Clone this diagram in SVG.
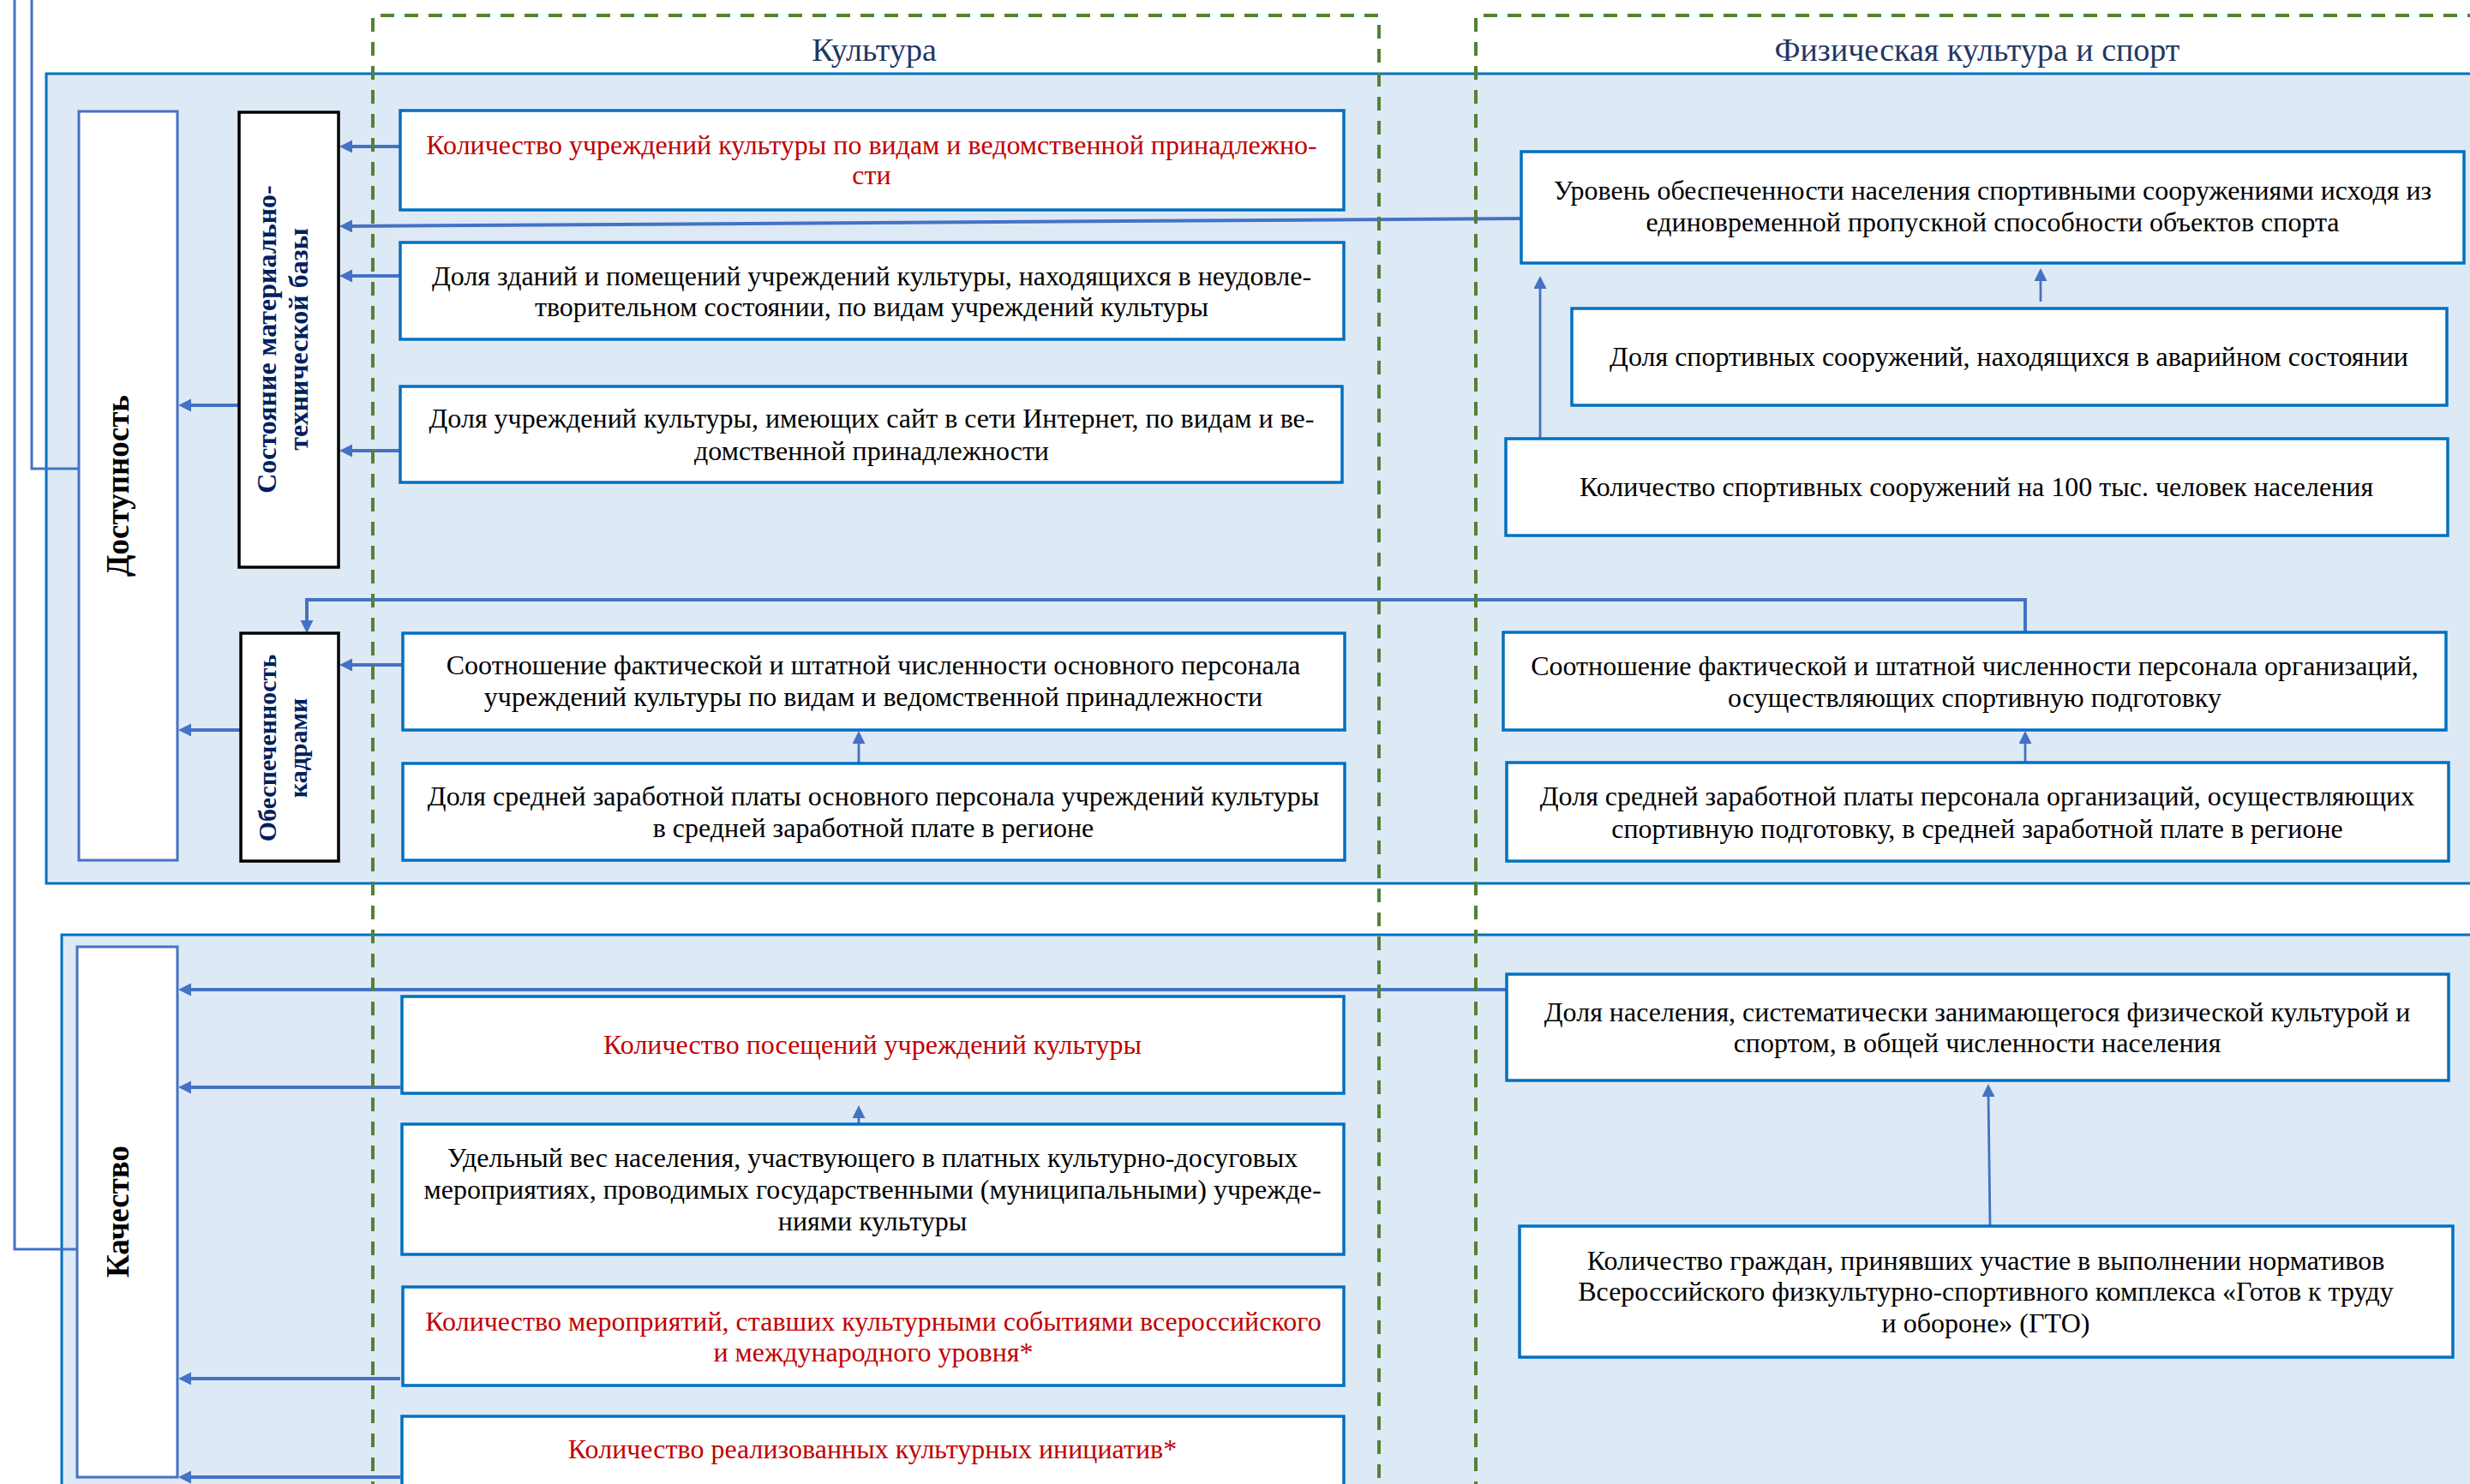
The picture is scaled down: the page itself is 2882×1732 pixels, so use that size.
<svg xmlns="http://www.w3.org/2000/svg" width="2882" height="1732" viewBox="0 0 2882 1732">
<defs>
<style>
.panel{fill:#DEE9F6;stroke:#0070C0;stroke-width:3}
.dash{fill:none;stroke:#548235;stroke-width:4;stroke-dasharray:16 12}
.box{fill:#FFFFFF;stroke:#0070C0;stroke-width:3.5}
.cat{fill:#FFFFFF;stroke:#4472C4;stroke-width:3}
.sub{fill:#FFFFFF;stroke:#000000;stroke-width:3.5}
.t{font-family:"Liberation Serif","Times New Roman",serif;font-size:32px;fill:#000;text-anchor:middle}
.r{fill:#C00000}
.title{font-family:"Liberation Serif","Times New Roman",serif;font-size:38px;fill:#1F3864;text-anchor:middle}
.vb{font-family:"Liberation Serif","Times New Roman",serif;font-size:37px;font-weight:bold;fill:#000;text-anchor:middle}
.vn{font-family:"Liberation Serif","Times New Roman",serif;font-size:32px;font-weight:bold;fill:#002060;text-anchor:middle}
.vn2{font-size:30px}
.c{fill:none;stroke:#4472C4;stroke-width:4}
.ct{fill:none;stroke:#4472C4;stroke-width:2.8}
.cl{fill:none;stroke:#4472C4;stroke-width:3}
</style>
<marker id="ah" markerUnits="userSpaceOnUse" markerWidth="16" markerHeight="16" refX="3" refY="7.5" orient="auto" viewBox="0 0 16 16">
<path d="M0,0 L15,7.5 L0,15 z" fill="#4472C4"/>
</marker>
</defs>

<g id="panels">
<rect class="panel" x="54" y="86" width="2860" height="945"/>
<rect class="panel" x="72" y="1091" width="2860" height="700"/>
</g>

<g id="connectors">
<path class="cl" d="M17,0 V1458 H92"/>
<path class="cl" d="M37,0 V547 H92"/>
<path class="c" d="M279,473 H220" marker-end="url(#ah)"/>
<path class="c" d="M281,852 H220" marker-end="url(#ah)"/>
<path class="c" d="M467,171 H408" marker-end="url(#ah)"/>
<path class="c" d="M1775,255 L408,264" marker-end="url(#ah)"/>
<path class="c" d="M467,322 H408" marker-end="url(#ah)"/>
<path class="c" d="M467,526 H408" marker-end="url(#ah)"/>
<path class="c" d="M2363,738 V700 H358 V727" marker-end="url(#ah)"/>
<path class="c" d="M470,776 H408" marker-end="url(#ah)"/>
<path class="ct" d="M1002,891 V865" marker-end="url(#ah)"/>
<path class="ct" d="M2363,890 V865" marker-end="url(#ah)"/>
<path class="ct" d="M2381,352 V325" marker-end="url(#ah)"/>
<path class="ct" d="M1797,512 V334" marker-end="url(#ah)"/>
<path class="c" d="M1758,1155 H220" marker-end="url(#ah)"/>
<path class="c" d="M467,1269 H220" marker-end="url(#ah)"/>
<path class="c" d="M467,1609 H220" marker-end="url(#ah)"/>
<path class="c" d="M467,1724 H220" marker-end="url(#ah)"/>
<path class="ct" d="M1002,1320 V1302" marker-end="url(#ah)"/>
<path class="ct" d="M2322,1432 L2320,1277" marker-end="url(#ah)"/>
</g>

<g id="groups">
<path class="dash" d="M435,1745 V18 H1609 V1745"/>
<path class="dash" d="M1722,1745 V18 H2895"/>
<text class="title" x="1020" y="71">Культура</text>
<text class="title" x="2307" y="71">Физическая культура и спорт</text>
</g>

<g id="dostupnost">
<rect class="cat" x="92" y="130" width="115" height="874"/>
<text class="vb" transform="translate(150,567) rotate(-90)">Доступность</text>
</g>

<g id="sostoyanie">
<rect class="sub" x="279" y="131" width="116" height="531"/>
<text class="vn" transform="translate(322,396) rotate(-90)"><tspan x="0" y="0">Состояние материально-</tspan><tspan x="0" y="37">технической базы</tspan></text>
</g>

<g id="obespechennost">
<rect class="sub" x="281" y="739" width="114" height="266"/>
<text class="vn vn2" transform="translate(322,873) rotate(-90)"><tspan x="0" y="0">Обеспеченность</tspan><tspan x="0" y="36">кадрами</tspan></text>
</g>

<g id="kachestvo">
<rect class="cat" x="90" y="1105" width="117" height="619"/>
<text class="vb" transform="translate(150,1414) rotate(-90)">Качество</text>
</g>

<g id="c1">
<rect class="box" x="467" y="129" width="1101" height="116"/>
<text class="t r" x="1017" y="180">Количество учреждений культуры по видам и ведомственной принадлежно-</text>
<text class="t r" x="1017" y="215">сти</text>
</g>
<g id="c2">
<rect class="box" x="467" y="283" width="1101" height="113"/>
<text class="t" x="1017" y="333">Доля зданий и помещений учреждений культуры, находящихся в неудовле-</text>
<text class="t" x="1017" y="369">творительном состоянии, по видам учреждений культуры</text>
</g>
<g id="c3">
<rect class="box" x="467" y="451" width="1099" height="112"/>
<text class="t" x="1017" y="499">Доля учреждений культуры, имеющих сайт в сети Интернет, по видам и ве-</text>
<text class="t" x="1017" y="537">домственной принадлежности</text>
</g>
<g id="c4">
<rect class="box" x="470" y="739" width="1099" height="113"/>
<text class="t" x="1019" y="787">Соотношение фактической и штатной численности основного персонала</text>
<text class="t" x="1019" y="824">учреждений культуры по видам и ведомственной принадлежности</text>
</g>
<g id="c5">
<rect class="box" x="470" y="891" width="1099" height="113"/>
<text class="t" x="1019" y="940">Доля средней заработной платы основного персонала учреждений культуры</text>
<text class="t" x="1019" y="977">в средней заработной плате в регионе</text>
</g>
<g id="c6">
<rect class="box" x="469" y="1163" width="1099" height="113"/>
<text class="t r" x="1018" y="1230">Количество посещений учреждений культуры</text>
</g>
<g id="c7">
<rect class="box" x="469" y="1312" width="1099" height="152"/>
<text class="t" x="1018" y="1362">Удельный вес населения, участвующего в платных культурно-досуговых</text>
<text class="t" x="1018" y="1399">мероприятиях, проводимых государственными (муниципальными) учрежде-</text>
<text class="t" x="1018" y="1436">ниями культуры</text>
</g>
<g id="c8">
<rect class="box" x="470" y="1502" width="1098" height="115"/>
<text class="t r" x="1019" y="1553">Количество мероприятий, ставших культурными событиями всероссийского</text>
<text class="t r" x="1019" y="1589">и международного уровня*</text>
</g>
<g id="c9">
<rect class="box" x="469" y="1653" width="1099" height="120"/>
<text class="t r" x="1018" y="1702">Количество реализованных культурных инициатив*</text>
</g>

<g id="s1">
<rect class="box" x="1775" y="177" width="1100" height="130"/>
<text class="t" x="2325" y="233">Уровень обеспеченности населения спортивными сооружениями исходя из</text>
<text class="t" x="2325" y="270">единовременной пропускной способности объектов спорта</text>
</g>
<g id="s2">
<rect class="box" x="1834" y="360" width="1021" height="113"/>
<text class="t" x="2344" y="427">Доля спортивных сооружений, находящихся в аварийном состоянии</text>
</g>
<g id="s3">
<rect class="box" x="1757" y="512" width="1099" height="113"/>
<text class="t" x="2306" y="579">Количество спортивных сооружений на 100 тыс. человек населения</text>
</g>
<g id="s4">
<rect class="box" x="1754" y="738" width="1100" height="114"/>
<text class="t" x="2304" y="788">Соотношение фактической и штатной численности персонала организаций,</text>
<text class="t" x="2304" y="825">осуществляющих спортивную подготовку</text>
</g>
<g id="s5">
<rect class="box" x="1758" y="890" width="1099" height="115"/>
<text class="t" x="2307" y="940">Доля средней заработной платы персонала организаций, осуществляющих</text>
<text class="t" x="2307" y="978">спортивную подготовку, в средней заработной плате в регионе</text>
</g>
<g id="s6">
<rect class="box" x="1758" y="1137" width="1099" height="124"/>
<text class="t" x="2307" y="1192">Доля населения, систематически занимающегося физической культурой и</text>
<text class="t" x="2307" y="1228">спортом, в общей численности населения</text>
</g>
<g id="s7">
<rect class="box" x="1773" y="1431" width="1089" height="153"/>
<text class="t" x="2317" y="1482">Количество граждан, принявших участие в выполнении нормативов</text>
<text class="t" x="2317" y="1518">Всероссийского физкультурно-спортивного комплекса «Готов к труду</text>
<text class="t" x="2317" y="1555">и обороне» (ГТО)</text>
</g>
</svg>
